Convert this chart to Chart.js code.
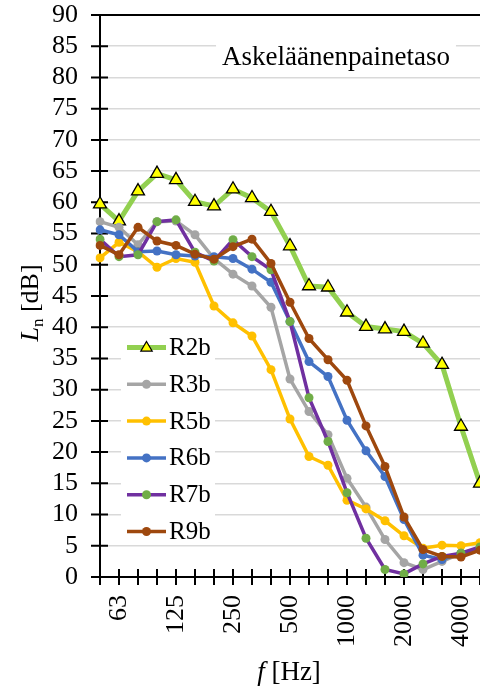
<!DOCTYPE html>
<html>
<head>
<meta charset="utf-8">
<script src="https://cdn.jsdelivr.net/npm/chart.js@4.4.1/dist/chart.umd.min.js"></script>
<style>
  html, body { margin: 0; padding: 0; background: #fff; }
  #wrap { width: 480px; height: 690px; }
</style>
</head>
<body>
<div id="wrap"><canvas id="chart" width="480" height="690"></canvas></div>
<script>
// third-octave bands and the ones that get a tick label
const freqs = ['50', '63', '80', '100', '125', '160', '200', '250', '315', '400', '500',
               '630', '800', '1000', '1250', '1600', '2000', '2500', '3150', '4000', '5000'];
const shownTicks = ['63', '125', '250', '500', '1000', '2000', '4000'];
const yTicks = [0, 90, 5];

const seriesNames = ['R2b', 'R3b', 'R5b', 'R6b', 'R7b', 'R9b'];
const r2b = [59.7, 57.0, 61.8, 64.6, 63.6, 60.1, 59.4, 62.1, 60.7, 58.5, 53.0, 46.6, 46.4, 42.4, 40.1, 39.7, 39.3, 37.4, 34.0, 24.1, 15.0];
const r3b = [56.9, 56.0, 53.2, 56.9, 57.0, 54.8, 51.0, 48.5, 46.6, 43.2, 31.7, 26.5, 22.8, 15.8, 11.2, 6.0, 2.3, 1.2, 2.5, 3.8, 4.5];
const r5b = [51.1, 53.6, 52.1, 49.6, 51.0, 50.4, 43.4, 40.7, 38.6, 33.2, 25.3, 19.3, 17.9, 12.3, 10.9, 9.0, 6.6, 4.6, 5.1, 5.0, 5.5];
const r6b = [55.6, 54.8, 52.1, 52.2, 51.6, 51.4, 51.3, 51.0, 49.3, 47.2, 40.9, 34.5, 32.1, 25.1, 20.2, 16.1, 9.2, 3.5, 2.8, 3.8, 4.5];
const r7b = [54.1, 51.3, 51.6, 56.9, 57.2, 52.0, 50.6, 54.0, 51.3, 49.2, 40.9, 28.7, 21.7, 13.5, 6.2, 1.2, 0.5, 2.1, 3.3, 3.8, 4.8];
const r9b = [53.1, 51.6, 56.0, 53.8, 53.1, 51.7, 50.9, 52.9, 54.1, 50.2, 44.0, 38.2, 34.8, 31.5, 24.2, 17.7, 9.6, 4.4, 3.3, 3.2, 4.3];

const chartTitle = 'Askeläänenpainetaso';
const serif = '"Liberation Serif", "Times New Roman", serif';

function lineSet(label, data, color, marker, i) {
    return {
        label: label,
        data: data,
        borderColor: color,
        backgroundColor: color,
        borderWidth: 3.5,
        pointRadius: 4.5,
        pointBackgroundColor: marker || color,
        pointBorderColor: marker || color,
        pointBorderWidth: 0,
        tension: 0,
        order: 6 - i,
    };
}

const datasets = [
    {
        label: seriesNames[0],
        data: r2b,
        borderColor: '#92D050',
        backgroundColor: '#92D050',
        borderWidth: 5,
        pointStyle: 'triangle',
        pointRadius: 7.5,
        pointBackgroundColor: '#FFFF00',
        pointBorderColor: '#000',
        pointBorderWidth: 1.3,
        tension: 0,
        order: 6,
    },
    lineSet(seriesNames[1], r3b, '#A5A5A5', null, 1),
    lineSet(seriesNames[2], r5b, '#FFC000', null, 2),
    lineSet(seriesNames[3], r6b, '#4472C4', null, 3),
    lineSet(seriesNames[4], r7b, '#7030A0', '#70AD47', 4),
    lineSet(seriesNames[5], r9b, '#9E480E', null, 5),
];

// axes, cross ticks, top frame line
const axesPlugin = {
    id: 'axesPlugin',
    beforeDatasetsDraw(chart) {
        const { ctx, chartArea: a, scales: { x, y } } = chart;
        ctx.save();
        ctx.strokeStyle = '#000';
        ctx.lineWidth = 2;
        ctx.beginPath();
        ctx.moveTo(a.left, a.top);
        ctx.lineTo(a.right, a.top);
        ctx.moveTo(a.left, a.top);
        ctx.lineTo(a.left, a.bottom);
        ctx.lineTo(a.right, a.bottom);
        for (let v = yTicks[0]; v <= yTicks[1]; v += yTicks[2]) {
            const py = y.getPixelForValue(v);
            ctx.moveTo(a.left - 9, py);
            ctx.lineTo(a.left + 8, py);
        }
        freqs.forEach((f, i) => {
            const px = x.getPixelForValue(i);
            ctx.moveTo(px, a.bottom - 8);
            ctx.lineTo(px, a.bottom + 8);
        });
        ctx.stroke();
        ctx.restore();
    },
    afterDatasetsDraw(chart) {
        const { ctx } = chart;
        ctx.save();
        // chart title in a white box
        ctx.font = '27px ' + serif;
        const tw = ctx.measureText(chartTitle).width;
        ctx.fillStyle = '#fff';
        ctx.fillRect(336 - tw / 2 - 6, 36, tw + 12, 38);
        ctx.fillStyle = '#000';
        ctx.textAlign = 'center';
        ctx.textBaseline = 'alphabetic';
        ctx.fillText(chartTitle, 336, 65);

        // legend
        ctx.fillStyle = '#fff';
        ctx.fillRect(121, 330, 94, 215);
        chart.data.datasets.forEach((ds, i) => {
            const ly = 347.5 + i * 36.8;
            ctx.strokeStyle = ds.borderColor;
            ctx.lineWidth = ds.borderWidth;
            ctx.beginPath();
            ctx.moveTo(127, ly);
            ctx.lineTo(166, ly);
            ctx.stroke();
            ctx.fillStyle = ds.pointBackgroundColor;
            ctx.beginPath();
            if (ds.pointStyle === 'triangle') {
                const r = 6;
                ctx.moveTo(146.5, ly - r);
                ctx.lineTo(146.5 + r * 0.95, ly + r * 0.6);
                ctx.lineTo(146.5 - r * 0.95, ly + r * 0.6);
                ctx.closePath();
                ctx.fill();
                ctx.strokeStyle = '#000';
                ctx.lineWidth = 1.2;
                ctx.stroke();
            } else {
                ctx.arc(146.5, ly, 4.5, 0, Math.PI * 2);
                ctx.fill();
            }
            ctx.fillStyle = '#000';
            ctx.font = '25px ' + serif;
            ctx.textAlign = 'left';
            ctx.textBaseline = 'middle';
            ctx.fillText(ds.label, 169, ly + 1);
        });

        // y axis title: L_n [dB]
        ctx.save();
        ctx.translate(38, 303);
        ctx.rotate(-Math.PI / 2);
        ctx.textBaseline = 'alphabetic';
        ctx.textAlign = 'left';
        const fBig = '26px ' + serif, fIt = 'italic 26px ' + serif, fSub = '17px ' + serif;
        ctx.font = fIt; const wL = ctx.measureText('L').width;
        ctx.font = fSub; const wn = ctx.measureText('n').width;
        ctx.font = fBig; const wR = ctx.measureText(' [dB]').width;
        let sx = -(wL + wn + wR) / 2;
        ctx.fillStyle = '#000';
        ctx.font = fIt; ctx.fillText('L', sx, 0); sx += wL;
        ctx.font = fSub; ctx.fillText('n', sx, 5); sx += wn;
        ctx.font = fBig; ctx.fillText(' [dB]', sx, 0);
        ctx.restore();

        // x axis title: f [Hz]
        ctx.font = 'italic 27px ' + serif;
        const wf = ctx.measureText('f').width;
        ctx.font = '27px ' + serif;
        const wh = ctx.measureText(' [Hz]').width;
        let tx = 289 - (wf + wh) / 2;
        ctx.textAlign = 'left';
        ctx.textBaseline = 'alphabetic';
        ctx.font = 'italic 27px ' + serif;
        ctx.fillText('f', tx, 680);
        ctx.font = '27px ' + serif;
        ctx.fillText(' [Hz]', tx + wf, 680);
        ctx.restore();
    }
};

new Chart(document.getElementById('chart'), {
    type: 'line',
    data: { labels: freqs, datasets: datasets },
    options: {
        responsive: false,
        animation: false,
        // no auto padding for point radius: the 5000 Hz band sits on the page edge
        layout: { autoPadding: false, padding: { top: 15, left: 0, right: 0, bottom: 0 } },
        plugins: { legend: { display: false }, tooltip: { enabled: false } },
        scales: {
            x: {
                type: 'category',
                offset: false,
                border: { display: false },
                grid: { display: true, drawOnChartArea: false, drawTicks: false, color: 'transparent' },
                ticks: {
                    autoSkip: false,
                    minRotation: 90,
                    maxRotation: 90,
                    padding: 18,
                    color: '#000',
                    font: { family: serif, size: 26 },
                    callback: function (value) {
                        const lab = this.getLabelForValue(value);
                        return shownTicks.includes(lab) ? lab : '';
                    }
                },
                afterFit(scale) {
                    scale.height = 113;
                    scale.paddingLeft = 0;
                    scale.paddingRight = 0;
                }
            },
            y: {
                min: yTicks[0],
                max: yTicks[1],
                border: { display: false },
                grid: { color: '#d9d9d9', lineWidth: 1.5, drawTicks: false },
                ticks: {
                    stepSize: yTicks[2],
                    autoSkip: false,
                    padding: 22,
                    color: '#000',
                    font: { family: serif, size: 26 }
                },
                afterFit(scale) {
                    scale.width = 100;
                    scale.paddingTop = 0;
                    scale.paddingBottom = 0;
                }
            }
        }
    },
    plugins: [axesPlugin]
});
</script>
</body>
</html>
